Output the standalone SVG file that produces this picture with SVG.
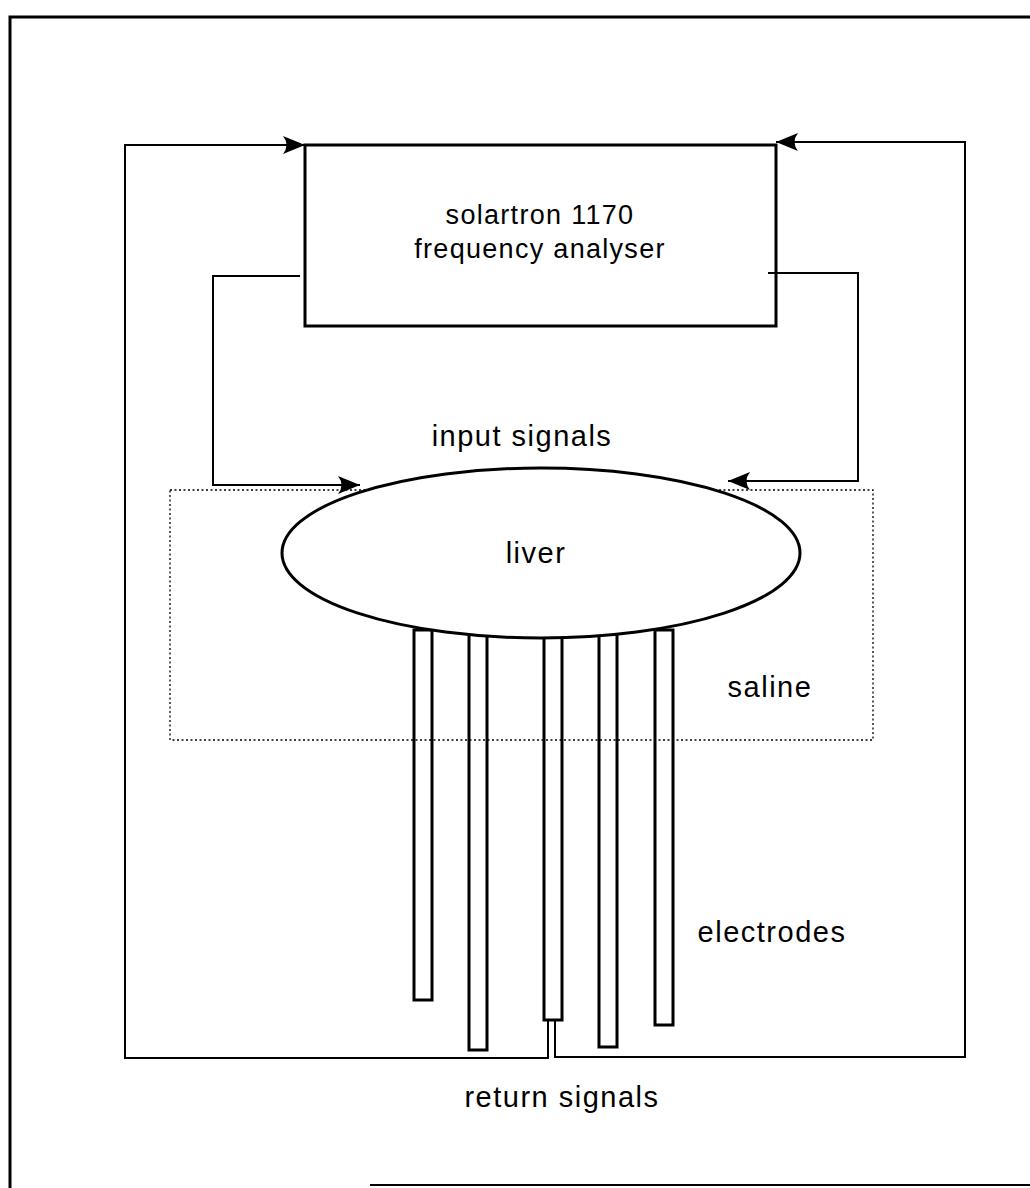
<svg xmlns="http://www.w3.org/2000/svg" width="1030" height="1188" viewBox="0 0 1030 1188">
<style>
.ln{fill:none;stroke:#000;stroke-width:2}
.thk{fill:none;stroke:#000;stroke-width:3}
.dot{fill:none;stroke:#000;stroke-width:1.3;stroke-dasharray:2 2.5}
.t{font-family:"Liberation Sans",Arial,sans-serif;fill:#000;text-anchor:middle;font-size:29px;letter-spacing:1.5px}
.b{font-size:27px;letter-spacing:1.3px}
.el{fill:#fff;stroke:#000;stroke-width:3}
</style>
<defs>
<marker id="ah" viewBox="0 0 22 18" refX="22" refY="9" markerWidth="22" markerHeight="18" markerUnits="userSpaceOnUse" orient="auto">
<path d="M0,0 Q7,9 0,18 L22,9 Z" fill="#000"/>
</marker>
</defs>
<rect width="1030" height="1188" fill="#fff"/>
<g id="frame">
<path class="thk" d="M1030,17 H10 V1188"/>
<path class="ln" d="M370,1185 H1030"/>
</g>
<g id="saline">
<rect class="dot" x="170" y="490" width="703" height="250"/>
<text class="t" x="770" y="697">saline</text>
</g>
<g id="connectors">
<path class="ln" d="M548,1020 V1058 H125 V145 H305" marker-end="url(#ah)"/>
<path class="ln" d="M555,1020 V1057 H965 V142 H776" marker-end="url(#ah)"/>
<path class="ln" d="M300,276 H213 V485 H360" marker-end="url(#ah)"/>
<path class="ln" d="M768,273 H858 V481 H728" marker-end="url(#ah)"/>
</g>
<g id="analyser">
<rect class="thk" x="305" y="145" width="471" height="181" fill="none"/>
<text class="t b" x="540" y="224">solartron 1170</text>
<text class="t b" x="540" y="258">frequency analyser</text>
</g>
<g id="electrodes">
<rect class="thk" x="414" y="630" width="18" height="370" fill="#fff"/>
<rect class="thk" x="469" y="630" width="18" height="420" fill="#fff"/>
<rect class="thk" x="544" y="630" width="18" height="390" fill="#fff"/>
<rect class="thk" x="599" y="630" width="18" height="417" fill="#fff"/>
<rect class="thk" x="655" y="630" width="18" height="395" fill="#fff"/>
<text class="t" x="772" y="942">electrodes</text>
</g>
<g id="liver">
<ellipse class="el" cx="541" cy="553" rx="259" ry="85"/>
<text class="t" x="536" y="563">liver</text>
</g>
<text class="t" x="522" y="446">input signals</text>
<text class="t" x="562" y="1107">return signals</text>
</svg>
